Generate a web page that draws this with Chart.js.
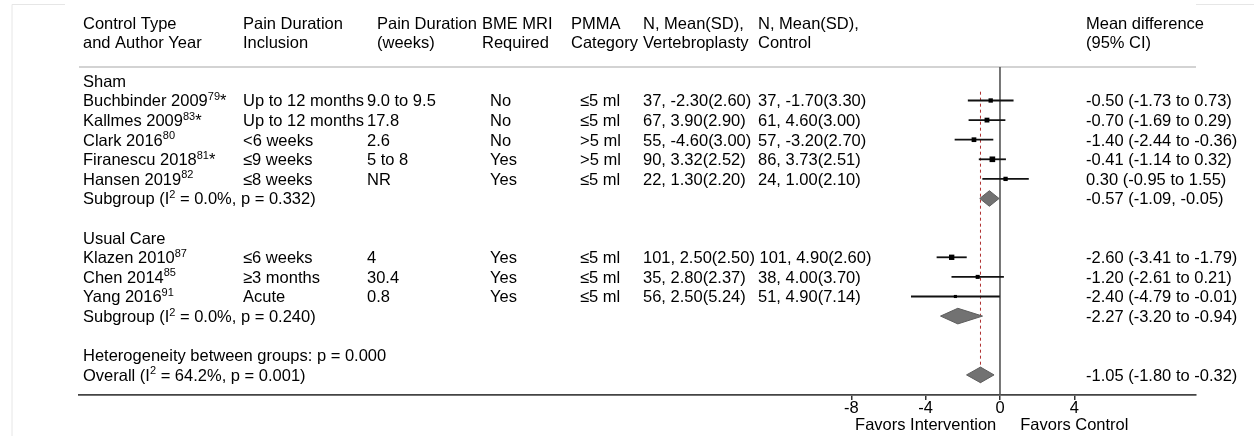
<!DOCTYPE html>
<html>
<head>
<meta charset="utf-8">
<script src="https://cdn.jsdelivr.net/npm/chart.js@4.4.1/dist/chart.umd.min.js"></script>
<style>
  html, body { margin: 0; padding: 0; background: #fff; }
  canvas { display: block; }
</style>
</head>
<body>
<canvas id="forest" width="1254" height="436"></canvas>
<script>
// ---- table headings ----
const headLine1 = ['Control Type', 'Pain Duration', 'Pain Duration', 'BME MRI', 'PMMA', 'N, Mean(SD),', 'N, Mean(SD),', 'Mean difference'];
const headLine2 = ['and Author Year', 'Inclusion', '(weeks)', 'Required', 'Category', 'Vertebroplasty', 'Control', '(95% CI)'];

// ---- trials ----
const studies   = ['Buchbinder 2009', 'Kallmes 2009', 'Clark 2016', 'Firanescu 2018', 'Hansen 2019', 'Klazen 2010', 'Chen 2014', 'Yang 2016'];
const refs      = ['79', '83', '80', '81', '82', '87', '85', '91'];
const starred   = [true, true, false, true, false, false, false, false];
const inclusion = ['Up to 12 months', 'Up to 12 months', '<6 weeks', '≤9 weeks', '≤8 weeks', '≤6 weeks', '≥3 months', 'Acute'];
const weeks     = ['9.0 to 9.5', '17.8', '2.6', '5 to 8', 'NR', '4', '30.4', '0.8'];
const bmeMri    = ['No', 'No', 'No', 'Yes', 'Yes', 'Yes', 'Yes', 'Yes'];
const pmma      = ['≤5 ml', '≤5 ml', '>5 ml', '>5 ml', '≤5 ml', '≤5 ml', '≤5 ml', '≤5 ml'];
const vertebro  = ['37, -2.30(2.60)', '67, 3.90(2.90)', '55, -4.60(3.00)', '90, 3.32(2.52)', '22, 1.30(2.20)', '101, 2.50(2.50)', '35, 2.80(2.37)', '56, 2.50(5.24)'];
const control   = ['37, -1.70(3.30)', '61, 4.60(3.00)', '57, -3.20(2.70)', '86, 3.73(2.51)', '24, 1.00(2.10)', '101, 4.90(2.60)', '38, 4.00(3.70)', '51, 4.90(7.14)'];
const md        = [-0.50, -0.70, -1.40, -0.41, 0.30, -2.60, -1.20, -2.40];
const ciLo      = [-1.73, -1.69, -2.44, -1.14, -0.95, -3.41, -2.61, -4.79];
const ciHi      = [0.73, 0.29, -0.36, 0.32, 1.55, -1.79, 0.21, -0.01];
const studyRow  = [1, 2, 3, 4, 5, 9, 10, 11];

// ---- pooled estimates (two subgroups, then overall) ----
const pooledName = ['Subgroup', 'Subgroup', 'Overall'];
const pooledI2   = ['0.0%', '0.0%', '64.2%'];
const pooledP    = ['0.332', '0.240', '0.001'];
const pooledMd   = [-0.57, -2.27, -1.05];
const pooledLo   = [-1.09, -3.20, -1.80];
const pooledHi   = [-0.05, -0.94, -0.32];
const pooledSep  = [', ', ' to ', ' to '];
const pooledRow  = [6, 12, 15];

// ---- group headings and footer text ----
const groupNames = ['Sham', 'Usual Care'];
const groupRow   = [0, 8];
const hetText    = 'Heterogeneity between groups: p = 0.000';
const hetRow     = 14;

// ---- axis ----
const xTicks     = [-8, -4, 0, 4];
const favorsText = ['Favors Intervention', 'Favors Control'];
const favorsAt   = [-4, 4];

// ---- layout / styling ----
const FONT = '"Liberation Sans", Arial, Helvetica, sans-serif';
const FS = 16.5;
const SUP_FS = 11;
const SUP_RISE = 6.5;
const X_MIN = -49.57, X_MAX = 10.55;   // table columns share the plot's x range
const Y_MIN = -0.709, Y_MAX = 16.026;  // row index units
const headX  = [83, 243, 377, 482, 571, 643, 758, 1086];
const cellX  = [83, 243, 367, 490, 580, 643, 758, 1086];

const fmt = v => v.toFixed(2);
const ciLabel = (m, lo, hi, sep) => `${fmt(m)} (${fmt(lo)}${sep}${fmt(hi)})`;

function drawRich(ctx, x, y, parts) {
  let cx = x;
  for (const [t, sup] of parts) {
    ctx.font = (sup ? SUP_FS : FS) + 'px ' + FONT;
    ctx.fillText(t, cx, sup ? y - SUP_RISE : y);
    cx += ctx.measureText(t).width;
  }
  return cx;
}

const tablePlugin = {
  id: 'forestTable',
  beforeDraw(chart) {
    const ctx = chart.ctx;
    const { chartArea: a } = chart;
    ctx.save();
    ctx.fillStyle = '#fff';
    ctx.fillRect(0, 0, chart.width, chart.height);
    // faint page frame
    ctx.strokeStyle = '#e6e6e6';
    ctx.lineWidth = 1;
    ctx.beginPath();
    ctx.moveTo(12, 436); ctx.lineTo(12, 4.5); ctx.lineTo(65, 4.5);
    ctx.moveTo(1196, 4.5); ctx.lineTo(1254, 4.5);
    ctx.stroke();
    // rule under the column headings
    ctx.strokeStyle = '#c4c4c4';
    ctx.lineWidth = 1.5;
    ctx.beginPath();
    ctx.moveTo(a.left, a.top); ctx.lineTo(a.right, a.top);
    ctx.stroke();
    ctx.restore();
  },
  afterDatasetsDraw(chart) {
    const ctx = chart.ctx;
    const xs = chart.scales.x, ys = chart.scales.y;
    ctx.save();
    pooledMd.forEach((m, i) => {
      const xl = xs.getPixelForValue(pooledLo[i]);
      const xr = xs.getPixelForValue(pooledHi[i]);
      const xc = xs.getPixelForValue(m);
      const yc = ys.getPixelForValue(pooledRow[i]);
      const h = 7.8;
      ctx.beginPath();
      ctx.moveTo(xl, yc); ctx.lineTo(xc, yc - h); ctx.lineTo(xr, yc); ctx.lineTo(xc, yc + h);
      ctx.closePath();
      ctx.fillStyle = '#727272';
      ctx.fill();
      ctx.strokeStyle = '#5e5e5e';
      ctx.lineWidth = 1;
      ctx.stroke();
    });
    ctx.restore();
  },
  afterDraw(chart) {
    const ctx = chart.ctx;
    const xs = chart.scales.x, ys = chart.scales.y;
    const base = r => ys.getPixelForValue(r) + 6;
    ctx.save();
    ctx.fillStyle = '#000';
    ctx.textAlign = 'left';
    ctx.textBaseline = 'alphabetic';
    ctx.font = FS + 'px ' + FONT;
    const sp = ctx.measureText(' ').width;

    // column headings
    headLine1.forEach((t, i) => ctx.fillText(t, headX[i], 28.5));
    headLine2.forEach((t, i) => ctx.fillText(t, headX[i], 47.7));

    // group headings
    groupNames.forEach((g, i) => ctx.fillText(g, cellX[0], base(groupRow[i])));

    // trial rows
    studies.forEach((s, i) => {
      const y = base(studyRow[i]);
      const parts = [[s, false], [refs[i], true]];
      if (starred[i]) parts.push(['*', false]);
      drawRich(ctx, cellX[0], y, parts);
      ctx.font = FS + 'px ' + FONT;
      ctx.fillText(inclusion[i], cellX[1], y);
      ctx.fillText(weeks[i], cellX[2], y);
      ctx.fillText(bmeMri[i], cellX[3], y);
      ctx.fillText(pmma[i], cellX[4], y);
      ctx.fillText(vertebro[i], cellX[5], y);
      const cx = Math.max(cellX[6], cellX[5] + ctx.measureText(vertebro[i]).width + sp);
      ctx.fillText(control[i], cx, y);
      ctx.fillText(ciLabel(md[i], ciLo[i], ciHi[i], ' to '), cellX[7], y);
    });

    // pooled rows
    pooledMd.forEach((m, i) => {
      const y = base(pooledRow[i]);
      drawRich(ctx, cellX[0], y, [[pooledName[i] + ' (I', false], ['2', true], [` = ${pooledI2[i]}, p = ${pooledP[i]})`, false]]);
      ctx.font = FS + 'px ' + FONT;
      ctx.fillText(ciLabel(m, pooledLo[i], pooledHi[i], pooledSep[i]), cellX[7], y);
    });

    ctx.fillText(hetText, cellX[0], base(hetRow));

    // favours captions under the axis
    ctx.textAlign = 'center';
    favorsText.forEach((t, i) => ctx.fillText(t, xs.getPixelForValue(favorsAt[i]), 429.5));
    ctx.restore();
  }
};

// square side grows with precision (narrower interval -> larger box)
const boxSide = studies.map((_, i) => 6.8 / Math.sqrt(ciHi[i] - ciLo[i]));

const datasets = [];
// point estimates
datasets.push({
  data: md.map((m, i) => ({ x: m, y: studyRow[i] })),
  pointStyle: 'rect',
  pointRadius: boxSide.map(s => s / Math.SQRT2),
  backgroundColor: '#000',
  borderWidth: 0,
  order: 0
});
// confidence intervals
md.forEach((m, i) => {
  datasets.push({
    data: [{ x: ciLo[i], y: studyRow[i] }, { x: ciHi[i], y: studyRow[i] }],
    showLine: true,
    pointRadius: 0,
    borderColor: '#111',
    borderWidth: 1.8,
    order: 1
  });
});
// line of no effect
datasets.push({
  data: [{ x: 0, y: Y_MIN }, { x: 0, y: Y_MAX }],
  showLine: true, pointRadius: 0, borderColor: '#555', borderWidth: 1.6, order: 3
});
// overall estimate reference
datasets.push({
  data: [{ x: pooledMd[2], y: 0.55 }, { x: pooledMd[2], y: pooledRow[2] + 0.41 }],
  showLine: true, pointRadius: 0, borderColor: '#b03030', borderWidth: 1, borderDash: [3, 3], order: 2
});

new Chart(document.getElementById('forest'), {
  type: 'scatter',
  data: { datasets },
  options: {
    responsive: false,
    animation: false,
    events: [],
    layout: { padding: { left: 79, right: 58, top: 67, bottom: 0 } },
    plugins: { legend: { display: false }, tooltip: { enabled: false } },
    scales: {
      x: {
        type: 'linear', min: X_MIN, max: X_MAX,
        afterBuildTicks: s => { s.ticks = xTicks.map(v => ({ value: v })); },
        afterFit: s => { s.height = 41; },
        grid: { drawOnChartArea: false, drawTicks: true, tickLength: 5, color: '#333', lineWidth: 1.5 },
        border: { display: true, color: '#444', width: 1.7 },
        ticks: { font: { family: FONT, size: FS }, color: '#000', padding: -1.5, maxRotation: 0, autoSkip: false }
      },
      y: { type: 'linear', display: false, reverse: true, min: Y_MIN, max: Y_MAX }
    }
  },
  plugins: [tablePlugin]
});
</script>
</body>
</html>
